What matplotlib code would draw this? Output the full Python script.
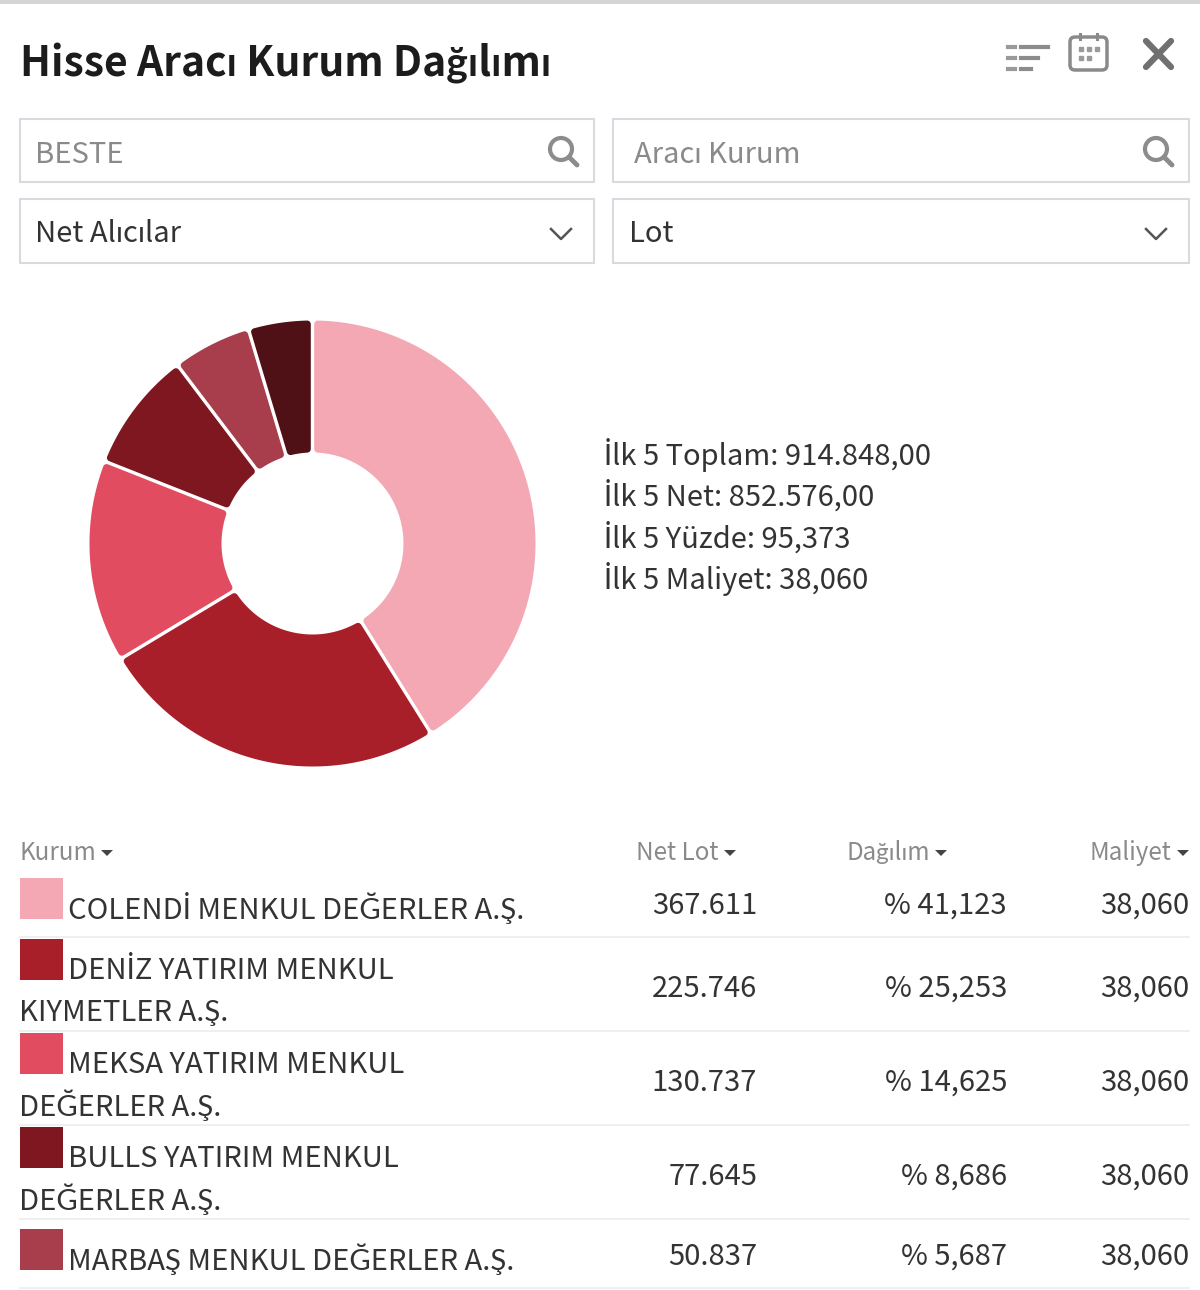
import numpy as np
import matplotlib
matplotlib.use("Agg")
import matplotlib.pyplot as plt
from matplotlib.patches import Rectangle, Circle, Polygon, FancyBboxPatch

plt.rcParams['font.family'] = ['Noto Sans CJK SC', 'Lato', 'DejaVu Sans']

kurum = ["COLENDİ MENKUL DEĞERLER A.Ş.", "DENİZ YATIRIM MENKUL\nKIYMETLER A.Ş.", "MEKSA YATIRIM MENKUL\nDEĞERLER A.Ş.",
         "BULLS YATIRIM MENKUL\nDEĞERLER A.Ş.", "MARBAŞ MENKUL DEĞERLER A.Ş."]
net_lot = [367611, 225746, 130737, 77645, 50837]
diger = 41368  # dark slice, not in the table
net_lot_txt = ["367.611", "225.746", "130.737", "77.645", "50.837"]
dagilim = ["% 41,123", "% 25,253", "% 14,625", "% 8,686", "% 5,687"]
maliyet = ["38,060", "38,060", "38,060", "38,060", "38,060"]
renkler = ["#f3a8b4", "#a81f29", "#e24c60", "#7f1720", "#a83e4c", "#4f1016"]
ozet = ["İlk 5 Toplam: 914.848,00", "İlk 5 Net: 852.576,00", "İlk 5 Yüzde: 95,373", "İlk 5 Maliyet: 38,060"]
basliklar = ["Kurum", "Net Lot", "Dağılım", "Maliyet"]

W, H = 1200, 1290
FS = 21
fig = plt.figure(figsize=(W / 100, H / 100), dpi=100)

# whole figure as a pixel canvas
ax = fig.add_axes([0, 0, 1, 1])
ax.set_xlim(0, W)
ax.set_ylim(H, 0)
ax.axis("off")

ax.add_patch(Rectangle((0, 0), W, 4, color="#d4d4d4", lw=0))
ax.text(20, 64, "Hisse Aracı Kurum Dağılımı", fontsize=29.4, fontweight="bold", color="#1c1c1c", va="center")

# inputs
kutular = [(20, 119, 574, 63), (613, 119, 576, 63), (20, 199, 574, 64), (613, 199, 576, 64)]
for x, y, w, h in kutular:
    ax.add_patch(Rectangle((x, y), w, h, fc="white", ec="#d9d9e0", lw=1.5))
ax.text(35, 155, "BESTE", fontsize=FS, color="#8a8a8a", va="center")
ax.text(634, 155, "Aracı Kurum", fontsize=FS, color="#8a8a8a", va="center")
ax.text(35, 234, "Net Alıcılar", fontsize=FS, color="#333333", va="center")
ax.text(629, 234, "Lot", fontsize=FS, color="#333333", va="center")

# search icons and chevrons
for cx in (561, 1156):
    ax.add_patch(Circle((cx, 149), 11, fc="none", ec="#8c8c8c", lw=3))
    ax.plot([cx + 8, cx + 16], [157, 165], color="#8c8c8c", lw=3.5, solid_capstyle="round")
    ax.plot([cx - 10, cx, cx + 10], [229, 239, 229], color="#555555", lw=1.8)

# header icons
for y, w in zip((47, 58, 69), (27, 17, 10)):
    ax.plot([1008, 1015], [y, y], color="#9a9a9a", lw=3)
    ax.plot([1021, 1021 + w], [y, y], color="#8c8c8c", lw=3)
ax.add_patch(FancyBboxPatch((1070, 37), 37, 33, boxstyle="round,pad=0,rounding_size=5", fc="white", ec="#8a8a8a", lw=2.5))
for x in (1080, 1097):
    ax.plot([x, x], [34, 39], color="#8a8a8a", lw=2.2)
for x, y in [(1081, 49), (1089, 49), (1097, 49), (1081, 58), (1089, 58)]:
    ax.plot(x, y, "s", ms=2.6, color="#9a9a9a")
ax.plot([1146, 1171], [41, 67], color="#707070", lw=4.5, solid_capstyle="round")
ax.plot([1171, 1146], [41, 67], color="#707070", lw=4.5, solid_capstyle="round")

# summary
for y, t in zip((455, 496, 538, 579), ozet):
    ax.text(604, y, t, fontsize=FS, color="#333333", va="center")

# table header
for x, t, ha in zip((19, 718, 930, 1171), basliklar, ("left", "right", "right", "right")):
    ax.text(x, 853, t, fontsize=17.4, color="#8a8a8a", va="center", ha=ha)
for x in (107, 730, 941, 1183):
    ax.add_patch(Polygon([(x - 6, 850), (x + 6, 850), (x, 856)], color="#444444", lw=0))

# table rows
kare_y = [878, 939, 1033, 1127, 1229]
cizgi_y = [937, 1031, 1125, 1219, 1288]
satir_y = [906, 989, 1083, 1177, 1257]
ad_y = [[910], [971, 1013], [1065, 1107], [1159, 1201], [1261]]
for i in range(len(kurum)):
    ax.add_patch(Rectangle((20, kare_y[i]), 43, 41, color=renkler[i], lw=0))
    satirlar = kurum[i].split("\n")
    ax.text(68, ad_y[i][0], satirlar[0], fontsize=FS, color="#333333", va="center")
    if len(satirlar) > 1:
        ax.text(19, ad_y[i][1], satirlar[1], fontsize=FS, color="#333333", va="center")
    ax.text(757, satir_y[i], net_lot_txt[i], fontsize=FS, color="#333333", va="center", ha="right")
    ax.text(1007, satir_y[i], dagilim[i], fontsize=FS, color="#333333", va="center", ha="right")
    ax.text(1189, satir_y[i], maliyet[i], fontsize=FS, color="#333333", va="center", ha="right")
    ax.plot([20, 1189], [cizgi_y[i], cizgi_y[i]], color="#ececec", lw=1.2)

# donut, axes box is the outer circle
cx, cy, r = 312.5, 543.5, 223
pie_ax = fig.add_axes([(cx - r) / W, 1 - (cy + r) / H, 2 * r / W, 2 * r / H])
wedges, _ = pie_ax.pie(net_lot + [diger], colors=renkler, startangle=90, counterclock=False, radius=1,
                       wedgeprops=dict(width=132 / 223))
pie_ax.set_xlim(-1, 1)
pie_ax.set_ylim(-1, 1)

# rounded slices with parallel gaps, angles come from the pie
k = 3.5 / r    # corner radius
g = 1.7 / r    # half of the gap
ro = 1 - k
ri = 91 / r + k
for w in wedges:
    w.set_visible(False)
    d = k + g
    t1 = np.radians(w.theta1)
    t2 = np.radians(w.theta2)
    dis = np.linspace(t1 + np.arcsin(d / ro), t2 - np.arcsin(d / ro), 80)
    ic = np.linspace(t2 - np.arcsin(d / ri), t1 + np.arcsin(d / ri), 40)
    pts = np.vstack([np.c_[ro * np.cos(dis), ro * np.sin(dis)], np.c_[ri * np.cos(ic), ri * np.sin(ic)]])
    pie_ax.add_patch(Polygon(pts, closed=True, fc=w.get_facecolor(), ec=w.get_facecolor(),
                             lw=2 * 3.5 * 0.72, joinstyle="round", clip_on=False))

fig.savefig("out.png", dpi=100)
